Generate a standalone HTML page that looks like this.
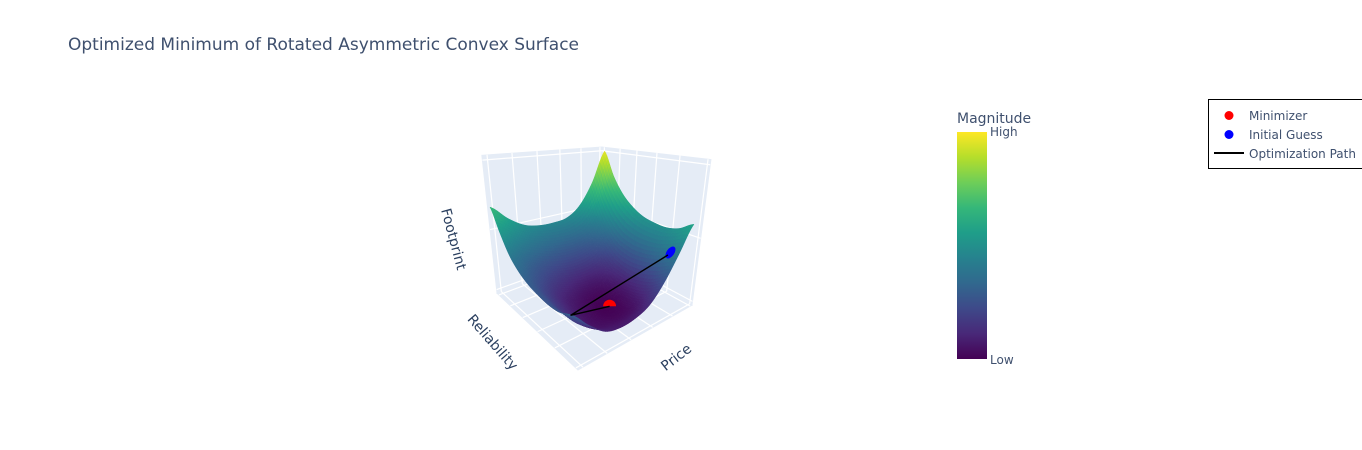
<!DOCTYPE html>
<html>
<head>
<meta charset="utf-8">
<style>
html,body{margin:0;padding:0;background:#fff;width:1362px;height:450px;overflow:hidden}
svg{display:block}
text{font-family:"DejaVu Sans","Liberation Sans",sans-serif;fill:#3f506e}
text.axis{fill:#2a3f5f}
</style>
</head>
<body>
<svg id="chart" width="1362" height="450" viewBox="0 0 1362 450" xmlns="http://www.w3.org/2000/svg">
<defs>
<linearGradient id="viridis" x1="0" y1="1" x2="0" y2="0"></linearGradient>
<clipPath id="red-clip"><rect x="-9" y="-9" width="18" height="9"></rect></clipPath>
</defs>
<text x="68" y="50" font-size="17">Optimized Minimum of Rotated Asymmetric Convex Surface</text>
<g id="scene">
<g id="walls"></g>
<g id="grid"></g>
<g id="surface"></g>
<g id="overlay"></g>
</g>
<text class="axis" font-size="14" text-anchor="middle" transform="translate(454,239) rotate(75)" dy="5">Footprint</text>
<text class="axis" font-size="14" text-anchor="middle" transform="translate(493,342) rotate(49)" dy="5">Reliability</text>
<text class="axis" font-size="14" text-anchor="middle" transform="translate(676,357) rotate(-38)" dy="5">Price</text>
<g>
<text x="957" y="123" font-size="14">Magnitude</text>
<rect x="957" y="132" width="30" height="227" fill="url(#viridis)"></rect>
<text x="990" y="136" font-size="12">High</text>
<text x="990" y="364" font-size="12">Low</text>
</g>
<g>
<rect x="1208.5" y="99.5" width="160" height="69" fill="#fff" stroke="#000" stroke-width="1"></rect>
<g>
<circle cx="1229" cy="115.5" r="4.5" fill="#f00"></circle>
<text x="1249" y="120" font-size="12">Minimizer</text>
</g>
<g>
<circle cx="1229" cy="134.5" r="4.5" fill="#00f"></circle>
<text x="1249" y="139" font-size="12">Initial Guess</text>
</g>
<g>
<line x1="1214" y1="153" x2="1244" y2="153" stroke="#000" stroke-width="2"></line>
<text x="1249" y="158" font-size="12">Optimization Path</text>
</g>
</g>
</svg>
<script>
// ---- chart data ----
var priceValues = [-2, -1.5, -1, -0.5, 0, 0.5, 1, 1.5, 2];
var reliabilityValues = [-2, -1.5, -1, -0.5, 0, 0.5, 1, 1.5, 2];
var magnitudeValues = [
  [0.32, 0.20, 0.10, 0.07, 0.08, 0.125, 0.24, 0.405, 0.58],
  [0.28, 0.15, 0.06, 0.035, 0.03, 0.06, 0.17, 0.36, 0.52],
  [0.27, 0.15, 0.06, 0.02, 0.005, 0.03, 0.13, 0.32, 0.495],
  [0.28, 0.17, 0.08, 0.03, 0.00, 0.02, 0.11, 0.30, 0.50],
  [0.30, 0.20, 0.11, 0.06, 0.03, 0.04, 0.12, 0.30, 0.52],
  [0.34, 0.26, 0.18, 0.13, 0.10, 0.10, 0.17, 0.33, 0.57],
  [0.41, 0.33, 0.27, 0.23, 0.21, 0.22, 0.27, 0.41, 0.65],
  [0.53, 0.45, 0.39, 0.35, 0.33, 0.33, 0.38, 0.54, 0.78],
  [0.67, 0.565, 0.49, 0.46, 0.455, 0.47, 0.55, 0.72, 0.97]
];
var priceRange = [-2, 2.02];
var reliabilityRange = [-2.267, 2.178];
var magnitudeRange = [0, 1];
var priceTicks = [-1.86, -1.144, -0.364, 0.412, 1.188, 1.94];
var reliabilityTicks = [-2.178, -1.245, -0.378, 0.462, 1.244, 2.044];
var magnitudeTicks = [0.03, 0.5, 0.97];
var pathPrice = [0.171, -2, 1.256];
var pathReliability = [-0.711, -2, -1.823];
var pathMagnitude = [0, 0.32, 0.405];
var minimizerPoint = [0.171, -0.711, 0];
var initialGuessPoint = [1.256, -1.823, 0.405];
var viridisColors = ['#440154','#482878','#3e4989','#31688e','#26828e','#1f9e89','#35b779','#6ece58','#b5de2b','#fde725'];

// ---- axis functions ----
var SVGNS = 'http://www.w3.org/2000/svg';
function scaleX(v){ return (v - priceRange[0]) / (priceRange[1] - priceRange[0]); }
function scaleY(v){ return (v - reliabilityRange[0]) / (reliabilityRange[1] - reliabilityRange[0]); }
function scaleZ(v){ return (v - magnitudeRange[0]) / (magnitudeRange[1] - magnitudeRange[0]); }
// perspective camera expressed through vanishing points of the three scene axes
function project(x, y, z){
  var a = 0.2727 * x, b = 0.349 * y, c = -0.1944 * z;
  var w = 1 + a + b + c;
  var sx = (a * 1110 + b * 265 + c * 587 + 578) / w;
  var sy = (a * 67 + b * 73 + c * 1112 + 370) / w + 8.6 * x * y * z;
  return [sx, sy, w];
}
function projectData(p, r, m){ return project(scaleX(p), scaleY(r), scaleZ(m)); }
function hexRgb(h){ return [parseInt(h.substr(1,2),16), parseInt(h.substr(3,2),16), parseInt(h.substr(5,2),16)]; }
function viridis(t){
  t = Math.max(0, Math.min(1, t)) * (viridisColors.length - 1);
  var i = Math.min(viridisColors.length - 2, Math.floor(t)), f = t - i;
  var p = hexRgb(viridisColors[i]), q = hexRgb(viridisColors[i + 1]);
  return 'rgb(' + Math.round(p[0] + (q[0] - p[0]) * f) + ',' + Math.round(p[1] + (q[1] - p[1]) * f) + ',' + Math.round(p[2] + (q[2] - p[2]) * f) + ')';
}
function pts(list){ return list.map(function(p){ return p[0].toFixed(2) + ',' + p[1].toFixed(2); }).join(' '); }

// colorbar gradient
var gradient = document.getElementById('viridis');
viridisColors.forEach(function(c, i){
  var s = document.createElementNS(SVGNS, 'stop');
  s.setAttribute('offset', (i / (viridisColors.length - 1)));
  s.setAttribute('stop-color', c);
  gradient.appendChild(s);
});

// walls
var wallsG = document.getElementById('walls');
var wallQuads = [
  [[0,0,0],[1,0,0],[1,1,0],[0,1,0]],
  [[0,1,0],[1,1,0],[1,1,1],[0,1,1]],
  [[1,0,0],[1,1,0],[1,1,1],[1,0,1]]
];
wallQuads.forEach(function(q){
  var poly = document.createElementNS(SVGNS, 'polygon');
  
  
  poly.setAttribute('points', pts(q.map(function(c){ return project(c[0], c[1], c[2]); })));
  poly.setAttribute('fill', '#e5ecf6');
  poly.setAttribute('stroke', '#e5ecf6');
  poly.setAttribute('stroke-width', '1');
  wallsG.appendChild(poly);
});

// gridlines
var gridG = document.getElementById('grid');
function gridLine(a, b){
  var p = project(a[0], a[1], a[2]), q = project(b[0], b[1], b[2]);
  var l = document.createElementNS(SVGNS, 'line');
  
  
  l.setAttribute('x1', p[0].toFixed(2));
  l.setAttribute('y1', p[1].toFixed(2));
  l.setAttribute('x2', q[0].toFixed(2));
  l.setAttribute('y2', q[1].toFixed(2));
  l.setAttribute('stroke', '#fff');
  l.setAttribute('stroke-width', '1.2');
  gridG.appendChild(l);
}
priceTicks.forEach(function(t){
  var x = scaleX(t);
  gridLine([x,0,0],[x,1,0]);
  gridLine([x,1,0],[x,1,1]);
});
reliabilityTicks.forEach(function(t){
  var y = scaleY(t);
  gridLine([0,y,0],[1,y,0]);
  gridLine([1,y,0],[1,y,1]);
});
magnitudeTicks.forEach(function(t){
  var z = scaleZ(t);
  gridLine([0,1,z],[1,1,z]);
  gridLine([1,1,z],[1,0,z]);
});

// surface: smooth the read grid with a Catmull-Rom patch for rendering
function cr(a, b, c, d, t){
  return 0.5 * (2 * b + (c - a) * t + (2 * a - 5 * b + 4 * c - d) * t * t + (3 * b - a - 3 * c + d) * t * t * t);
}
function lin(arr, u){
  var i = Math.max(0, Math.min(arr.length - 2, Math.floor(u)));
  return arr[i] + (arr[i + 1] - arr[i]) * (u - i);
}
function sampleZ(r, c){
  var nr = magnitudeValues.length, nc = magnitudeValues[0].length;
  var ri = Math.min(nr - 2, Math.floor(r)), ci = Math.min(nc - 2, Math.floor(c));
  var rt = r - ri, ct = c - ci, col = [];
  for (var k = -1; k <= 2; k++) {
    var row = magnitudeValues[Math.max(0, Math.min(nr - 1, ri + k))];
    col.push(cr(row[Math.max(0, ci - 1)], row[ci], row[ci + 1], row[Math.min(nc - 1, ci + 2)], ct));
  }
  return cr(col[0], col[1], col[2], col[3], rt);
}
var SUB = 8;
var meshR = (magnitudeValues.length - 1) * SUB, meshC = (magnitudeValues[0].length - 1) * SUB;
var mesh = [], meshZ = [];
for (var i = 0; i <= meshR; i++) {
  mesh.push([]); meshZ.push([]);
  for (var j = 0; j <= meshC; j++) {
    var rr = i / SUB, cc = j / SUB;
    var zv = sampleZ(rr, cc);
    meshZ[i].push(zv);
    mesh[i].push(projectData(lin(priceValues, cc), lin(reliabilityValues, rr), zv));
  }
}
var cells = [];
for (var i2 = 0; i2 < meshR; i2++) {
  for (var j2 = 0; j2 < meshC; j2++) {
    var q = [mesh[i2][j2], mesh[i2][j2 + 1], mesh[i2 + 1][j2 + 1], mesh[i2 + 1][j2]];
    cells.push({
      q: q,
      d: (q[0][2] + q[1][2] + q[2][2] + q[3][2]) / 4,
      z: (meshZ[i2][j2] + meshZ[i2][j2 + 1] + meshZ[i2 + 1][j2 + 1] + meshZ[i2 + 1][j2]) / 4
    });
  }
}
cells.sort(function(a, b){ return b.d - a.d; });
var surfaceG = document.getElementById('surface');
cells.forEach(function(cell){
  var poly = document.createElementNS(SVGNS, 'polygon');
  
  
  var color = viridis(scaleZ(cell.z));
  poly.setAttribute('points', pts(cell.q));
  poly.setAttribute('fill', color);
  poly.setAttribute('stroke', color);
  poly.setAttribute('stroke-width', '0.5');
  surfaceG.appendChild(poly);
});

// path and markers
var overlay = document.getElementById('overlay');
var rp = projectData(minimizerPoint[0], minimizerPoint[1], minimizerPoint[2]);
var redGroup = document.createElementNS(SVGNS, 'g');


redGroup.setAttribute('transform', 'translate(' + rp[0].toFixed(2) + ',' + rp[1].toFixed(2) + ')');
var redMarker = document.createElementNS(SVGNS, 'circle');


redMarker.setAttribute('r', '6.5');
redMarker.setAttribute('fill', '#f00');
redMarker.setAttribute('clip-path', 'url(#red-clip)');
redGroup.appendChild(redMarker);
overlay.appendChild(redGroup);

var bp = projectData(initialGuessPoint[0], initialGuessPoint[1], initialGuessPoint[2]);
var blueGroup = document.createElementNS(SVGNS, 'g');


blueGroup.setAttribute('transform', 'translate(' + (bp[0] + 2.5).toFixed(2) + ',' + (bp[1] - 2.5).toFixed(2) + ') rotate(-55)');
var blueMarker = document.createElementNS(SVGNS, 'ellipse');


blueMarker.setAttribute('rx', '6.8');
blueMarker.setAttribute('ry', '3.8');
blueMarker.setAttribute('fill', '#00f');
blueGroup.appendChild(blueMarker);
overlay.appendChild(blueGroup);

var path = document.createElementNS(SVGNS, 'polyline');


path.setAttribute('points', pts(pathPrice.map(function(p, i){ return projectData(p, pathReliability[i], pathMagnitude[i]); })));
path.setAttribute('fill', 'none');
path.setAttribute('stroke', '#000');
path.setAttribute('stroke-width', '1.4');
overlay.appendChild(path);
</script>
</body>
</html>
